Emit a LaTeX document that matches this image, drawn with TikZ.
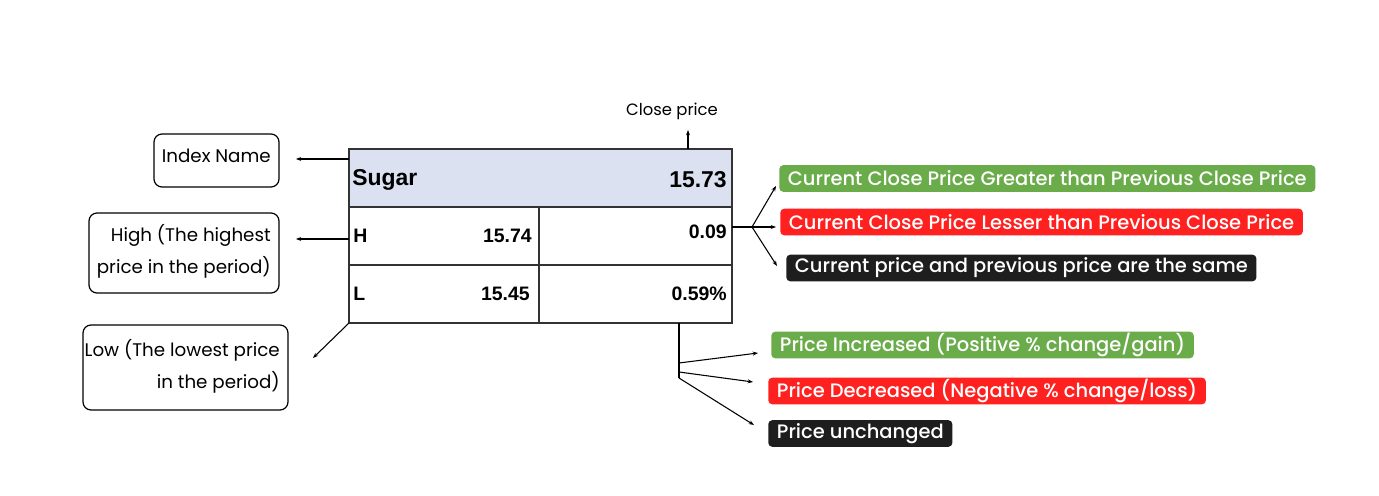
\documentclass[tikz,border=0pt]{standalone}
\usepackage{fontspec}
\setmainfont{Poppins}
\newfontfamily\popmed{Poppins Medium}
\newfontfamily\arialfont{Liberation Sans}
\usetikzlibrary{arrows.meta}
\definecolor{hdrblue}{HTML}{DCE1F2}
\definecolor{gbox}{HTML}{6AAB4A}
\definecolor{rbox}{HTML}{FF2020}
\definecolor{kbox}{HTML}{1E1E1E}
\definecolor{lineg}{HTML}{333333}
\tikzset{
  conn/.style={draw=black, line width=0.8pt, -{Stealth[length=4pt,width=3pt]}},
  plainline/.style={draw=black, line width=0.8pt},
  lblframe/.style={draw=black, line width=0.9pt, rounded corners=6pt},
  pill/.style={rounded corners=3pt, text=white, font=\popmed\fontsize{14.6pt}{16pt}\selectfont, anchor=west, minimum height=20pt, inner xsep=6.5pt, inner ysep=0pt},
  tnum/.style={font=\arialfont\bfseries\fontsize{14.6pt}{16pt}\selectfont, inner sep=0pt},
  tbig/.style={font=\arialfont\bfseries\fontsize{17.2pt}{19pt}\selectfont, inner sep=0pt},
  ltxt/.style={font=\fontsize{13.7pt}{16pt}\selectfont, inner sep=0pt}
}
\begin{document}
\begin{tikzpicture}[x=0.75pt,y=-0.75pt]
\useasboundingbox (0,0) rectangle (1379,496);
% table
\fill[hdrblue] (349,149) rectangle (732,207);
\draw[lineg, line width=0.9pt] (349,149) rectangle (732,323);
\draw[lineg, line width=0.9pt] (349,207) -- (732,207);
\draw[lineg, line width=0.9pt] (349,265) -- (732,265);
\draw[lineg, line width=0.9pt] (539,207) -- (539,323);
\node[tbig, anchor=west] (sugar) at (352,180) {Sugar};
\node[tbig, anchor=east] (close) at (727,180) {15.73};
\node[tnum, anchor=west] (hl) at (353,236) {H};
\node[tnum, anchor=east] (hv) at (532,236) {15.74};
\node[tnum, anchor=east] (chg) at (727,232) {0.09};
\node[tnum, anchor=west] (ll) at (353,294) {L};
\node[tnum, anchor=east] (lv) at (530,294) {15.45};
\node[tnum, anchor=east] (pct) at (727,294) {0.59\%};
% anchors on the table
\coordinate (tIdx) at (349,159);
\coordinate (tHigh) at (349,239);
\coordinate (tLow) at (349,323);
\coordinate (tClose) at (688,149);
\coordinate (tChg) at (732,227);
\coordinate (tPct) at (679,323);
% label boxes
\draw[lblframe] (154,134) rectangle (279,187);
\node[ltxt, anchor=east] (idxtxt) at (271,156) {Index Name};
\draw[lblframe] (89,213) rectangle (279,293);
\node[ltxt, anchor=east] (hightxt1) at (271,235) {High (The highest};
\node[ltxt, anchor=east] (hightxt2) at (271,267) {price in the period)};
\draw[lblframe] (83,325) rectangle (288,410);
\node[ltxt, anchor=east] (lowtxt1) at (280,350) {Low (The lowest price};
\node[ltxt, anchor=east] (lowtxt2) at (280,382) {in the period)};
\coordinate (idxend) at (296,159);
\coordinate (highend) at (296,239);
\coordinate (lowend) at (313,358);
\draw[conn] (tIdx) -- (idxend);
\draw[conn] (tHigh) -- (highend);
\draw[conn] (tLow) -- (lowend);
% close price
\node[ltxt, font=\fontsize{12.3pt}{14pt}\selectfont] (closelbl) at (672,111) {Close price};
\coordinate (closeend) at (688,130);
\draw[conn] (tClose) -- (closeend);
% right pills
\node[pill, fill=gbox] (g1) at (779,178.5) {Current Close Price Greater than Previous Close Price};
\node[pill, fill=rbox] (r1) at (780,222) {Current Close Price Lesser than Previous Close Price};
\node[pill, fill=kbox] (k1) at (786,268) {Current price and previous price are the same};
\coordinate (fork) at (752,227);
\coordinate (g1e) at (776,186);
\coordinate (r1e) at (776,227);
\coordinate (k1e) at (777,266);
\draw[plainline] (tChg) -- (fork);
\draw[conn] (fork) -- (r1e);
\draw[conn] (fork) -- (g1e);
\draw[conn] (fork) -- (k1e);
% bottom pills
\node[pill, fill=gbox] (g2) at (771,345) {Price Increased (Positive \% change/gain)};
\node[pill, fill=rbox] (r2) at (768,391) {Price Decreased (Negative \% change/loss)};
\node[pill, fill=kbox] (k2) at (768,433.5) {Price unchanged};
\coordinate (v1) at (679,363);
\coordinate (v2) at (679,372);
\coordinate (v3) at (679,378);
\coordinate (g2e) at (758,353);
\coordinate (r2e) at (753,382);
\coordinate (k2e) at (754,425);
\draw[plainline] (tPct) -- (v3);
\draw[conn] (v1) -- (g2e);
\draw[conn] (v2) -- (r2e);
\draw[conn] (v3) -- (k2e);
\end{tikzpicture}
\end{document}
